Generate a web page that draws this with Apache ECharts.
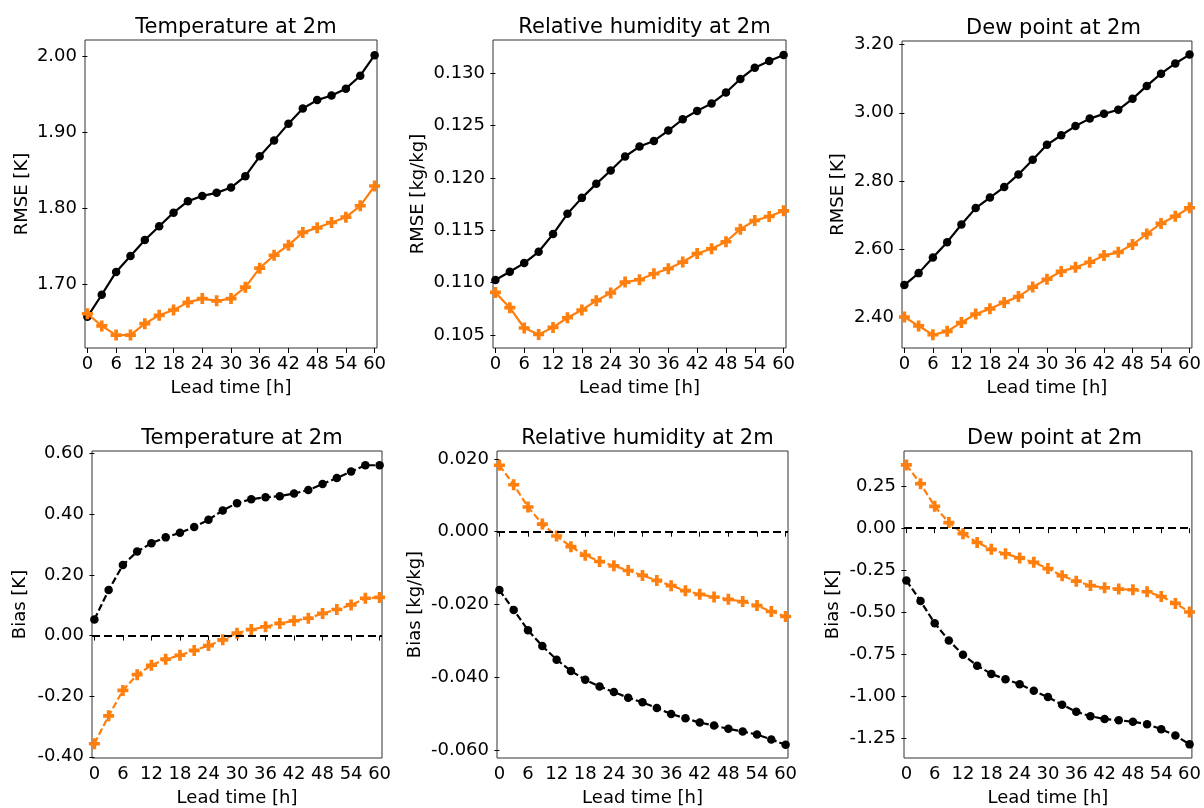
<!DOCTYPE html>
<html>
<head>
<meta charset="utf-8">
<script src="https://cdn.jsdelivr.net/npm/echarts@6/dist/echarts.min.js"></script>
<style>
  html, body { margin: 0; padding: 0; background: #fff; }
  #chart { width: 1204px; height: 808px; }
</style>
</head>
<body>
<div id="chart"></div>
<script>
// lead times (hours)
const leadTimes = [0, 3, 6, 9, 12, 15, 18, 21, 24, 27, 30, 33, 36, 39, 42, 45, 48, 51, 54, 57, 60]
const xTicks    = [0, 6, 12, 18, 24, 30, 36, 42, 48, 54, 60]

// RMSE, temperature
const rmseT_ref  = [1.657, 1.686, 1.716, 1.737, 1.758, 1.776, 1.794, 1.809, 1.816, 1.820, 1.827, 1.842, 1.868, 1.889, 1.911, 1.931, 1.942, 1.948, 1.957, 1.974, 2.001]
const rmseT_new  = [1.661, 1.645, 1.633, 1.633, 1.648, 1.659, 1.666, 1.676, 1.681, 1.678, 1.681, 1.696, 1.721, 1.738, 1.751, 1.768, 1.774, 1.781, 1.788, 1.803, 1.829]
// RMSE, relative humidity
const rmseRH_ref = [0.11025, 0.11104, 0.11187, 0.11295, 0.11464, 0.11658, 0.11810, 0.11944, 0.12071, 0.12205, 0.12300, 0.12354, 0.12453, 0.12561, 0.12641, 0.12711, 0.12816, 0.12946, 0.13054, 0.13118, 0.13175]
const rmseRH_new = [0.10907, 0.10761, 0.10567, 0.10506, 0.10573, 0.10665, 0.10739, 0.10828, 0.10901, 0.11006, 0.11028, 0.11085, 0.11133, 0.11197, 0.11279, 0.11324, 0.11391, 0.11511, 0.11594, 0.11632, 0.11686]
// RMSE, dew point
const rmseTd_ref = [2.494, 2.529, 2.575, 2.620, 2.672, 2.720, 2.751, 2.782, 2.819, 2.862, 2.906, 2.934, 2.961, 2.983, 2.997, 3.009, 3.041, 3.079, 3.115, 3.145, 3.171]
const rmseTd_new = [2.400, 2.374, 2.348, 2.358, 2.384, 2.409, 2.424, 2.443, 2.460, 2.488, 2.511, 2.534, 2.546, 2.561, 2.581, 2.590, 2.613, 2.644, 2.675, 2.696, 2.721]

// Bias, temperature
const biasT_ref  = [0.053, 0.150, 0.233, 0.277, 0.305, 0.324, 0.339, 0.358, 0.382, 0.413, 0.437, 0.450, 0.456, 0.460, 0.469, 0.480, 0.500, 0.520, 0.541, 0.562, 0.562]
const biasT_new  = [-0.357, -0.265, -0.181, -0.129, -0.098, -0.078, -0.065, -0.049, -0.033, -0.014, 0.008, 0.020, 0.029, 0.040, 0.049, 0.057, 0.073, 0.086, 0.101, 0.123, 0.126]
// Bias, relative humidity
const biasRH_ref = [-0.01604, -0.02150, -0.02705, -0.03142, -0.03515, -0.03825, -0.04070, -0.04252, -0.04407, -0.04561, -0.04689, -0.04844, -0.05008, -0.05126, -0.05245, -0.05326, -0.05417, -0.05490, -0.05572, -0.05709, -0.05854]
const biasRH_new = [0.01827, 0.01290, 0.00680, 0.00209, -0.00118, -0.00410, -0.00646, -0.00819, -0.00937, -0.01065, -0.01201, -0.01338, -0.01483, -0.01620, -0.01720, -0.01793, -0.01857, -0.01920, -0.02029, -0.02193, -0.02330]
// Bias, dew point
const biasTd_ref = [-0.311, -0.433, -0.565, -0.667, -0.752, -0.817, -0.866, -0.898, -0.927, -0.967, -1.004, -1.049, -1.091, -1.118, -1.134, -1.142, -1.150, -1.165, -1.195, -1.232, -1.285]
const biasTd_new = [0.376, 0.264, 0.130, 0.033, -0.033, -0.085, -0.126, -0.152, -0.177, -0.203, -0.240, -0.283, -0.315, -0.341, -0.354, -0.362, -0.366, -0.378, -0.406, -0.447, -0.498]

// y tick labels per panel
const yTicksRmseT  = [1.70, 1.80, 1.90, 2.00]
const yTicksRmseRH = [0.105, 0.110, 0.115, 0.120, 0.125, 0.130]
const yTicksRmseTd = [2.40, 2.60, 2.80, 3.00, 3.20]
const yTicksBiasT  = [-0.40, -0.20, 0.00, 0.20, 0.40, 0.60]
const yTicksBiasRH = [-0.060, -0.040, -0.020, 0.000, 0.020]
const yTicksBiasTd = [-1.25, -1.00, -0.75, -0.50, -0.25, 0.00, 0.25]

const FONT   = 'DejaVu Sans'
const ORANGE = '#ff7f0e'
const PLUS   = 'path://M4,0H8V4H12V8H8V12H4V8H0V4H4Z'

const panels = [
  { title: 'Temperature at 2m',       yName: 'RMSE [K]',     ref: rmseT_ref,  neu: rmseT_new,  ticks: yTicksRmseT,  dec: 2, min: 1.616,  max: 2.021,  bias: false,
    grid: { left: 85,  top: 40,  width: 292, height: 308 }, nameGap: 54 },
  { title: 'Relative humidity at 2m', yName: 'RMSE [kg/kg]', ref: rmseRH_ref, neu: rmseRH_new, ticks: yTicksRmseRH, dec: 3, min: 0.10376, max: 0.13318, bias: false,
    grid: { left: 493, top: 40,  width: 293, height: 308 }, nameGap: 66 },
  { title: 'Dew point at 2m',         yName: 'RMSE [K]',     ref: rmseTd_ref, neu: rmseTd_new, ticks: yTicksRmseTd, dec: 2, min: 2.309,  max: 3.211,  bias: false,
    grid: { left: 902, top: 41,  width: 293, height: 307 }, nameGap: 55 },
  { title: 'Temperature at 2m',       yName: 'Bias [K]',     ref: biasT_ref,  neu: biasT_new,  ticks: yTicksBiasT,  dec: 2, min: -0.404, max: 0.609,  bias: true,
    grid: { left: 92,  top: 451, width: 290, height: 308 }, nameGap: 63 },
  { title: 'Relative humidity at 2m', yName: 'Bias [kg/kg]', ref: biasRH_ref, neu: biasRH_new, ticks: yTicksBiasRH, dec: 3, min: -0.06218, max: 0.02218, bias: true,
    grid: { left: 497, top: 451, width: 291, height: 309 }, nameGap: 73 },
  { title: 'Dew point at 2m',         yName: 'Bias [K]',     ref: biasTd_ref, neu: biasTd_new, ticks: yTicksBiasTd, dec: 2, min: -1.366, max: 0.4587, bias: true,
    grid: { left: 904, top: 451, width: 291, height: 309 }, nameGap: 62 }
]

const chart = echarts.init(document.getElementById('chart'))

const grids = [], xAxes = [], yAxes = [], titles = [], series = []

panels.forEach((p, i) => {
  grids.push(Object.assign({ show: true, borderColor: '#333', borderWidth: 1, backgroundColor: 'transparent' }, p.grid))
  titles.push({
    text: p.title,
    left: p.grid.left + p.grid.width / 2,
    top: p.grid.top - 28,
    textAlign: 'center',
    textStyle: { fontFamily: FONT, fontSize: 21, fontWeight: 'normal', color: '#000' }
  })
  xAxes.push({
    type: 'value', gridIndex: i, min: -0.5, max: 60.5,
    name: 'Lead time [h]', nameLocation: 'middle', nameGap: 31,
    nameTextStyle: { fontFamily: FONT, fontSize: 18, color: '#000' },
    axisLine: { show: false },
    axisTick: { show: true, inside: false, length: 5, customValues: xTicks, lineStyle: { color: '#000' } },
    axisLabel: { customValues: xTicks, fontFamily: FONT, fontSize: 18, color: '#000', margin: 7 },
    splitLine: { show: false }
  })
  yAxes.push({
    type: 'value', gridIndex: i, min: p.min, max: p.max,
    name: p.yName, nameLocation: 'middle', nameGap: p.nameGap,
    nameTextStyle: { fontFamily: FONT, fontSize: 18, color: '#000' },
    axisLine: { show: false },
    axisTick: { show: true, inside: false, length: 5, customValues: p.ticks, lineStyle: { color: '#000' } },
    axisLabel: { customValues: p.ticks, fontFamily: FONT, fontSize: 18, color: '#000', margin: 8,
      formatter: v => v.toFixed(p.dec) },
    splitLine: { show: false }
  })
  const lineType = p.bias ? [7, 3] : 'solid'
  const refSeries = {
    type: 'line', xAxisIndex: i, yAxisIndex: i,
    data: leadTimes.map((t, k) => [t, p.ref[k]]),
    symbol: 'circle', symbolSize: 8.5,
    lineStyle: { color: '#000', width: 2.2, type: lineType },
    itemStyle: { color: '#000' },
    z: 3
  }
  if (p.bias) {
    refSeries.markLine = {
      silent: true, symbol: 'none', label: { show: false },
      lineStyle: { color: '#000', width: 2.2, type: [8, 4] },
      data: [{ yAxis: 0 }]
    }
  }
  series.push(refSeries)
  series.push({
    type: 'line', xAxisIndex: i, yAxisIndex: i,
    data: leadTimes.map((t, k) => [t, p.neu[k]]),
    symbol: PLUS, symbolSize: 11, symbolKeepAspect: true,
    lineStyle: { color: ORANGE, width: 2.2, type: lineType },
    itemStyle: { color: ORANGE },
    z: 4
  })
})

chart.setOption({
  animation: false,
  backgroundColor: '#fff',
  title: titles,
  grid: grids,
  xAxis: xAxes,
  yAxis: yAxes,
  series: series
})
</script>
</body>
</html>
